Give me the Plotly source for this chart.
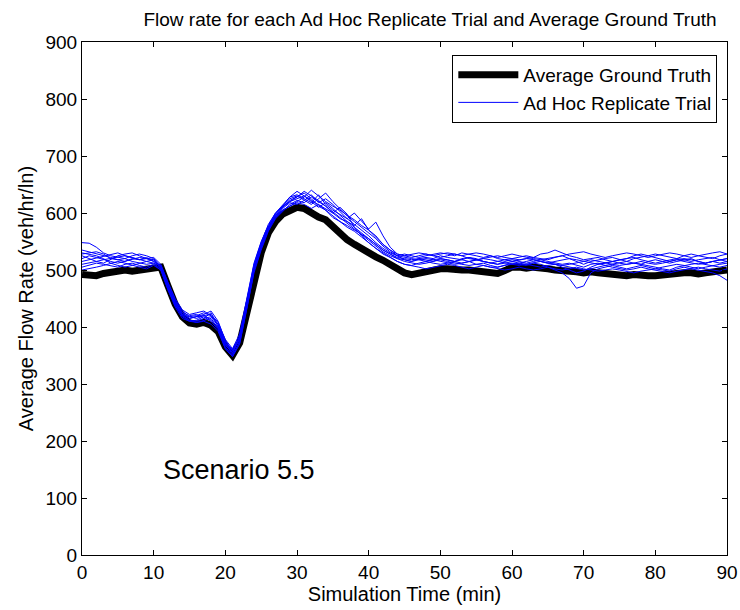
import plotly.graph_objects as go

time_min = list(range(0, 91))

ground_truth = [
    492, 490, 490, 494, 497, 500, 500, 498, 500, 503, 506,
    505, 472, 440, 418, 407, 405, 408, 403, 392, 365,
    350, 372, 425, 488, 530, 565, 585, 598, 605, 610,
    608, 600, 593, 588, 575, 565, 553, 545, 537, 530,
    523, 517, 510, 503, 495, 492, 495, 498, 500, 502,
    502, 500, 500, 500, 498, 495, 493, 494, 499, 505,
    505, 503, 505, 505, 502, 500, 500, 498, 497, 495,
    497, 495, 493, 492, 490, 490, 492, 490, 490, 490,
    492, 493, 493, 495, 495, 493, 495, 497, 498, 500,
]

rep1 = [
    548, 547, 540, 530, 525, 522, 520, 515, 512, 510, 512,
    508, 478, 448, 425, 415, 418, 420, 412, 398, 368,
    355, 380, 440, 505, 545, 575, 598, 612, 620, 625,
    630, 622, 615, 608, 600, 590, 585, 575, 565, 555,
    545, 535, 528, 522, 520, 518, 520, 522, 520, 525,
    522, 520, 518, 522, 520, 515, 512, 510, 515, 518,
    515, 512, 515, 518, 515, 512, 510, 512, 508, 505,
    510, 512, 508, 510, 512, 515, 512, 510, 515, 518,
    515, 512, 515, 518, 520, 515, 512, 515, 518, 520,
]
rep2 = [
    528, 530, 532, 528, 520, 518, 515, 520, 518, 522, 515,
    505, 470, 445, 420, 412, 410, 415, 425, 400, 370,
    352, 385, 448, 510, 548, 580, 600, 615, 628, 632,
    625, 618, 632, 615, 605, 598, 590, 580, 570, 560,
    548, 538, 530, 525, 528, 525, 522, 525, 528, 530,
    528, 525, 530, 528, 525, 522, 525, 520, 518, 520,
    522, 525, 522, 520, 518, 522, 525, 520, 515, 510,
    515, 518, 520, 522, 518, 515, 520, 522, 525, 528,
    525, 522, 520, 525, 528, 525, 522, 520, 525, 528,
]
rep3 = [
    515, 518, 522, 525, 528, 530, 525, 522, 518, 520, 518,
    502, 468, 438, 422, 418, 420, 425, 420, 405, 372,
    358, 378, 435, 500, 540, 570, 595, 605, 612, 620,
    628, 640, 630, 620, 612, 605, 596, 588, 578, 570,
    560, 545, 535, 525, 518, 515, 520, 518, 515, 520,
    518, 515, 520, 522, 518, 515, 512, 515, 518, 515,
    512, 515, 518, 515, 512, 510, 505, 500, 495, 498,
    505, 510, 512, 515, 512, 510, 512, 515, 512, 510,
    512, 515, 518, 515, 512, 510, 512, 515, 512, 515,
]
rep4 = [
    505, 508, 512, 510, 508, 505, 510, 512, 508, 505, 510,
    500, 465, 435, 415, 410, 412, 418, 410, 395, 362,
    348, 370, 430, 495, 535, 568, 590, 602, 615, 622,
    618, 628, 620, 612, 600, 610, 598, 575, 560, 548,
    538, 528, 522, 515, 510, 508, 512, 515, 512, 510,
    512, 515, 518, 515, 510, 508, 505, 505, 508, 512,
    510, 508, 512, 510, 505, 500, 495, 485, 468, 472,
    495, 502, 505, 508, 505, 502, 505, 508, 505, 502,
    505, 508, 510, 508, 505, 502, 505, 508, 510, 512,
]
rep5 = [
    520, 525, 522, 518, 515, 512, 515, 518, 522, 520, 515,
    508, 475, 442, 425, 420, 422, 415, 418, 402, 375,
    360, 382, 442, 505, 542, 572, 592, 608, 618, 615,
    622, 632, 618, 625, 615, 602, 590, 600, 585, 572,
    584, 560, 540, 528, 525, 522, 525, 528, 525, 522,
    525, 528, 525, 520, 518, 520, 522, 525, 522, 520,
    518, 520, 522, 528, 530, 535, 530, 525, 522, 518,
    520, 522, 518, 515, 518, 520, 522, 518, 515, 512,
    515, 518, 520, 518, 515, 518, 520, 522, 518, 515,
]
rep6 = [
    510, 512, 515, 518, 520, 522, 525, 522, 518, 515, 512,
    502, 468, 440, 420, 412, 408, 412, 415, 398, 365,
    350, 375, 438, 502, 540, 572, 595, 610, 622, 628,
    635, 625, 612, 605, 595, 585, 578, 570, 562, 555,
    545, 535, 528, 520, 515, 512, 510, 512, 515, 518,
    515, 512, 510, 508, 510, 512, 508, 505, 508, 510,
    512, 510, 508, 505, 508, 510, 508, 505, 502, 500,
    502, 505, 508, 505, 502, 500, 502, 505, 502, 500,
    498, 495, 498, 500, 502, 505, 502, 500, 498, 502,
]
rep7 = [
    530, 528, 525, 520, 512, 508, 505, 508, 512, 515, 518,
    505, 472, 445, 428, 418, 415, 420, 422, 408, 378,
    362, 388, 450, 512, 550, 578, 600, 612, 625, 630,
    622, 615, 625, 635, 620, 608, 595, 585, 575, 565,
    555, 542, 532, 525, 522, 520, 518, 515, 518, 520,
    518, 515, 512, 515, 518, 515, 512, 510, 512, 515,
    518, 520, 518, 515, 512, 515, 518, 520, 518, 515,
    512, 510, 512, 515, 518, 520, 525, 528, 525, 522,
    518, 515, 518, 520, 518, 515, 512, 515, 518, 520,
]
rep8 = [
    500, 502, 505, 508, 512, 515, 512, 508, 505, 502, 508,
    500, 465, 438, 418, 410, 408, 410, 405, 392, 362,
    348, 372, 432, 498, 538, 570, 592, 605, 612, 618,
    615, 608, 615, 605, 592, 585, 575, 568, 558, 548,
    538, 530, 522, 515, 510, 508, 505, 502, 505, 508,
    510, 508, 505, 502, 505, 508, 505, 502, 500, 502,
    505, 502, 500, 502, 505, 502, 500, 502, 505, 502,
    500, 498, 500, 502, 500, 498, 495, 498, 500, 502,
    500, 498, 502, 505, 502, 500, 498, 495, 490, 482,
]
rep9 = [
    525, 520, 515, 512, 518, 525, 528, 530, 525, 520, 522,
    510, 478, 450, 430, 422, 425, 428, 420, 405, 372,
    355, 380, 445, 508, 545, 575, 598, 612, 628, 638,
    630, 620, 610, 618, 608, 596, 585, 578, 590, 570,
    558, 545, 535, 528, 525, 528, 530, 528, 525, 528,
    530, 528, 525, 528, 530, 528, 525, 522, 525, 528,
    525, 522, 520, 518, 520, 522, 525, 528, 530, 532,
    528, 525, 522, 525, 528, 530, 528, 525, 522, 525,
    528, 530, 528, 525, 522, 525, 528, 530, 532, 528,
]
rep10 = [
    535, 532, 528, 525, 522, 518, 520, 525, 528, 525, 520,
    506, 470, 442, 422, 415, 418, 422, 428, 410, 375,
    358, 378, 440, 505, 542, 575, 595, 610, 620, 628,
    638, 630, 622, 612, 602, 592, 582, 572, 562, 552,
    542, 532, 525, 520, 518, 515, 518, 520, 518, 515,
    512, 510, 512, 515, 518, 520, 518, 515, 512, 510,
    508, 510, 512, 515, 512, 510, 508, 510, 512, 515,
    518, 515, 512, 510, 508, 510, 512, 510, 508, 505,
    502, 500, 505, 508, 510, 512, 510, 508, 505, 508,
]

replicates = [rep1, rep2, rep3, rep4, rep5, rep6, rep7, rep8, rep9, rep10]

x_ticks = list(range(0, 91, 10))
y_ticks = list(range(0, 901, 100))

FONT = "Liberation Sans, Arial, sans-serif"

fig = go.Figure()
fig.add_trace(go.Scatter(
    x=time_min, y=ground_truth, mode="lines",
    line=dict(color="black", width=7),
    name="Average Ground Truth", showlegend=True,
))
for i, rep in enumerate(replicates):
    fig.add_trace(go.Scatter(
        x=time_min, y=rep, mode="lines",
        line=dict(color="#0000ff", width=1),
        name="Ad Hoc Replicate Trial", showlegend=(i == 0),
    ))

axis_common = dict(
    showline=True, linecolor="black", linewidth=1, mirror="ticks",
    ticks="inside", ticklen=5, tickcolor="black",
    showgrid=False, zeroline=False, ticklabeloverflow="allow",
    automargin=False,
    tickfont=dict(family=FONT, size=19, color="black"),
)

fig.update_layout(
    width=740, height=610,
    margin=dict(l=82, r=13, t=42, b=55),
    paper_bgcolor="white", plot_bgcolor="white",
    title=dict(
        text="Flow rate for each Ad Hoc Replicate Trial and Average Ground Truth",
        x=430 / 740, xanchor="center", xref="container",
        y=1 - 19 / 610, yanchor="middle", yref="container",
        font=dict(family=FONT, size=19, color="black"),
    ),
    xaxis=dict(range=[0, 90], tickvals=x_ticks,
               title=dict(text="Simulation Time (min)", standoff=4,
                          font=dict(family=FONT, size=20, color="black")),
               **axis_common),
    yaxis=dict(range=[0, 900], tickvals=y_ticks,
               title=dict(text="Average Flow Rate (veh/hr/ln)", standoff=6,
                          font=dict(family=FONT, size=20, color="black")),
               **axis_common),
    legend=dict(
        x=0.985, y=0.975, xanchor="right", yanchor="top",
        bgcolor="white", bordercolor="black", borderwidth=1,
        font=dict(family=FONT, size=19, color="black"),
        tracegroupgap=0, itemwidth=60,
    ),
    annotations=[dict(
        x=21.9, y=150, xref="x", yref="y", text="Scenario 5.5",
        showarrow=False, font=dict(family=FONT, size=27, color="black"),
    )],
)

fig.write_html("out.html")
